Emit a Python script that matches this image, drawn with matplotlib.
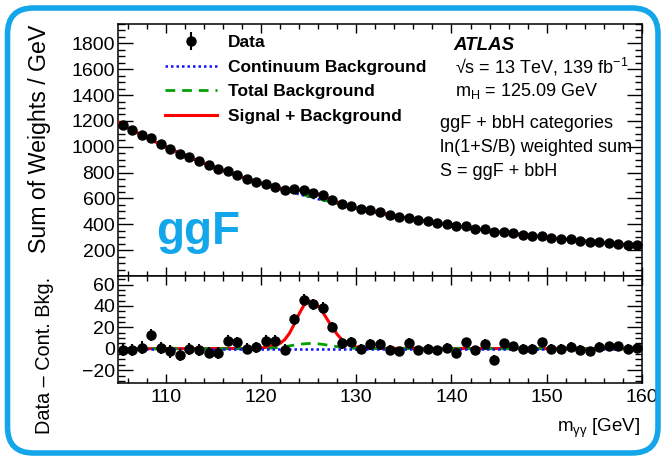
import numpy as np
import matplotlib
matplotlib.use("Agg")
import matplotlib.pyplot as plt
from matplotlib.patches import FancyBboxPatch
from matplotlib.transforms import IdentityTransform
from matplotlib.ticker import MultipleLocator, FuncFormatter

plt.rcParams['font.family'] = ['Liberation Sans', 'DejaVu Sans']
plt.rcParams['mathtext.fontset'] = 'custom'
plt.rcParams['mathtext.rm'] = 'Liberation Sans'
plt.rcParams['mathtext.it'] = 'Liberation Sans:italic'
plt.rcParams['mathtext.bf'] = 'Liberation Sans:bold'

# ---------------- data ----------------
bin_centers = np.arange(105.5, 160.0, 1.0)  # m_yy bin centres [GeV]

# continuum background fit, at 105, every bin centre, 160
cont_bkg = [1188.6, 1168.0, 1127.9, 1089.5, 1052.5, 1017.0, 982.9, 950.1, 918.7, 888.4,
            859.3, 831.3, 804.4, 778.6, 753.7, 729.7, 706.7, 684.5, 663.1, 642.5,
            622.8, 603.7, 585.3, 567.6, 550.6, 534.1, 518.3, 503.0, 488.3, 474.1,
            460.4, 447.2, 434.5, 422.2, 410.3, 398.9, 387.8, 377.1, 366.8, 356.9,
            347.3, 338.0, 329.0, 320.4, 312.0, 303.9, 296.1, 288.5, 281.2, 274.1,
            267.2, 260.6, 254.2, 248.0, 242.0, 236.2, 233.4]

# data minus continuum background (lower panel)
residual = [-1, -1, 1, 13, 1, -2.5, -6, 0, -1.5, -3.5,
            -4, 7.5, 6, 0, 1.5, 7.5, 7.5, -1, 27.5, 46,
            41.5, 38.5, 20, 5, 6, 0, 4, 4, -1, -2.5,
            5, -1.5, 0, -1.5, 1, -3.5, 6, -1.5, 4.5, -10.5,
            5, 2.5, 0, 0, 6, 0, 0, 2, -1, -2.5,
            2, 2.5, 2.5, 0, 0.5]

# statistical uncertainty on data
data_err = [6.0, 5.9, 5.9, 5.8, 5.7, 5.7, 5.6, 5.5, 5.5, 5.4,
            5.4, 5.3, 5.3, 5.2, 5.2, 5.1, 5.1, 5.0, 5.0, 5.0,
            4.9, 4.9, 4.8, 4.8, 4.8, 4.7, 4.7, 4.7, 4.6, 4.6,
            4.6, 4.5, 4.5, 4.5, 4.4, 4.4, 4.4, 4.3, 4.3, 4.3,
            4.3, 4.2, 4.2, 4.2, 4.2, 4.1, 4.1, 4.1, 4.1, 4.0,
            4.0, 4.0, 4.0, 4.0, 3.9]

# signal region curves (relative to continuum)
sig_mass = [119.0, 119.5, 120.0, 120.5, 121.0, 121.5, 122.0, 122.5, 123.0, 123.5,
            124.0, 124.5, 125.0, 125.5, 126.0, 126.5, 127.0, 127.5, 128.0, 128.5,
            129.0, 129.5, 130.0, 130.5, 131.0]
sig_plus_bkg = [0.3, 0.5, 0.8, 1.3, 2.0, 3.2, 5.0, 8.5, 14.5, 23.0,
                32.5, 40.5, 44.5, 44.0, 40.0, 34.0, 27.0, 20.0, 13.5, 8.5,
                5.2, 3.0, 1.7, 0.9, 0.4]
total_bkg = [0.05, 0.1, 0.2, 0.35, 0.6, 0.9, 1.4, 2.0, 2.7, 3.4,
             4.1, 4.6, 4.9, 4.9, 4.6, 4.1, 3.4, 2.7, 2.0, 1.4,
             0.9, 0.6, 0.35, 0.2, 0.1]

# ---------------- derived ----------------
bkg_mass = np.concatenate([[105.0], bin_centers, [160.0]])
cont = np.array(cont_bkg)
resid = np.array(residual)
err = np.array(data_err)
data_top = cont[1:-1] + resid

sm = np.array(sig_mass)
cont_at_sig = np.exp(np.interp(sm, bkg_mass, np.log(cont)))
lo = bkg_mass < sm[0]
hi = bkg_mass > sm[-1]
x_full = np.concatenate([bkg_mass[lo], sm, bkg_mass[hi]])
red_top = np.concatenate([cont[lo], cont_at_sig + np.array(sig_plus_bkg), cont[hi]])
green_top = np.concatenate([cont[lo], cont_at_sig + np.array(total_bkg), cont[hi]])

x_low = np.concatenate([[105.0], sm, [160.0]])
red_low = np.concatenate([[0.0], sig_plus_bkg, [0.0]])
green_low = np.concatenate([[0.0], total_bkg, [0.0]])

# ---------------- figure ----------------
W, H = 663, 458
fig = plt.figure(figsize=(W / 100, H / 100), dpi=100)


def fx(px):
    return px / W


def fy(py):
    return 1 - py / H


L, R = 118, 642
ax1 = fig.add_axes([fx(L), fy(276), fx(R) - fx(L), fy(24) - fy(276)])
ax2 = fig.add_axes([fx(L), fy(383), fx(R) - fx(L), fy(276) - fy(383)])

blue = '#1010ff'
green = '#00a000'
red = '#ff0000'

h_blue, = ax1.plot(bkg_mass, cont, color=blue, ls=(0, (1, 1.2)), lw=1.8, zorder=2)
h_green, = ax1.plot(x_full, green_top, color=green, ls=(0, (3.5, 2.5)), lw=2.0, zorder=3)
h_red, = ax1.plot(x_full, red_top, color=red, lw=2.2, zorder=4)
h_data = ax1.errorbar(bin_centers, data_top, yerr=err, fmt='o', color='k', ms=6.5,
                      elinewidth=1.5, capsize=0, zorder=5)

ax2.plot(x_low, red_low, color=red, lw=2.2, zorder=2)
ax2.plot(x_low, green_low, color=green, ls=(0, (3.5, 2.5)), lw=2.0, zorder=3)
ax2.axhline(0, color=blue, ls=(0, (1, 1.2)), lw=1.8, zorder=4)
ax2.errorbar(bin_centers, resid, yerr=err, fmt='o', color='k', ms=6.5,
             elinewidth=1.5, capsize=0, zorder=5)

ax1.set_xlim(105, 160)
ax2.set_xlim(105, 160)
ax1.set_ylim(0, 1950)
ax2.set_ylim(-32, 68)

for ax in (ax1, ax2):
    ax.xaxis.set_major_locator(MultipleLocator(10))
    ax.xaxis.set_minor_locator(MultipleLocator(2))
    ax.tick_params(which='both', direction='in', top=True, right=True, width=1.0,
                   labelsize=14)
    ax.tick_params(axis='y', which='major', length=11, pad=2)
    ax.tick_params(axis='y', which='minor', length=5)
    ax.tick_params(axis='x', which='major', length=6.5, pad=4)
    ax.tick_params(axis='x', which='minor', length=3.5)
    for s in ax.spines.values():
        s.set_linewidth(1.1)

ax1.yaxis.set_major_locator(MultipleLocator(200))
ax1.yaxis.set_minor_locator(MultipleLocator(50))
ax1.yaxis.set_major_formatter(FuncFormatter(lambda v, p: '' if abs(v) < 1e-6 else f'{v:.0f}'))
ax1.tick_params(axis='x', labelbottom=False)
ax2.yaxis.set_major_locator(MultipleLocator(20))
ax2.yaxis.set_minor_locator(MultipleLocator(5))

# axis titles
fig.text(fx(40), fy(25), 'Sum of Weights / GeV', rotation=90, ha='center', va='top', fontsize=16.7)
fig.text(fx(45), fy(277), 'Data \u2013 Cont. Bkg.', rotation=90, ha='center', va='top', fontsize=14.3)
fig.text(fx(640), fy(432), r'm$_{\mathregular{\gamma\gamma}}$ [GeV]', ha='right', va='baseline', fontsize=13.5)

# legend
leg = ax1.legend([h_data, h_blue, h_green, h_red],
                 ['Data', 'Continuum Background', 'Total Background', 'Signal + Background'],
                 loc='upper left', bbox_to_anchor=(fx(165), fy(35)), bbox_transform=fig.transFigure,
                 frameon=False, borderpad=0, borderaxespad=0, handlelength=3.0,
                 handletextpad=0.6, labelspacing=0.54, prop={'weight': 'bold', 'size': 12.5})

# annotations
fig.text(fx(453), fy(50), 'ATLAS', fontsize=13.5, fontweight='bold', fontstyle='italic', va='baseline')
fig.text(fx(455), fy(73), '\u221as = 13 TeV, 139 fb' + r'$^{\mathregular{-1}}$', fontsize=13, va='baseline')
fig.text(fx(455), fy(96), r'm$_{\mathregular{H}}$ = 125.09 GeV', fontsize=13, va='baseline')
fig.text(fx(440), fy(128), 'ggF + bbH categories', fontsize=13, va='baseline')
fig.text(fx(440), fy(152), 'ln(1+S/B) weighted sum', fontsize=13, va='baseline')
fig.text(fx(440), fy(176), 'S = ggF + bbH', fontsize=13, va='baseline')

accent = '#14a6ea'
fig.text(fx(156), fy(244), 'ggF', fontsize=33, fontweight='bold', color=accent, va='baseline')

# rounded frame
frame = FancyBboxPatch((7.5, 5), 650.5, 445, boxstyle='round,pad=0,rounding_size=26',
                       transform=IdentityTransform(), fill=False, edgecolor=accent, lw=4.0)
fig.patches.append(frame)

fig.savefig('out.png', dpi=100)
